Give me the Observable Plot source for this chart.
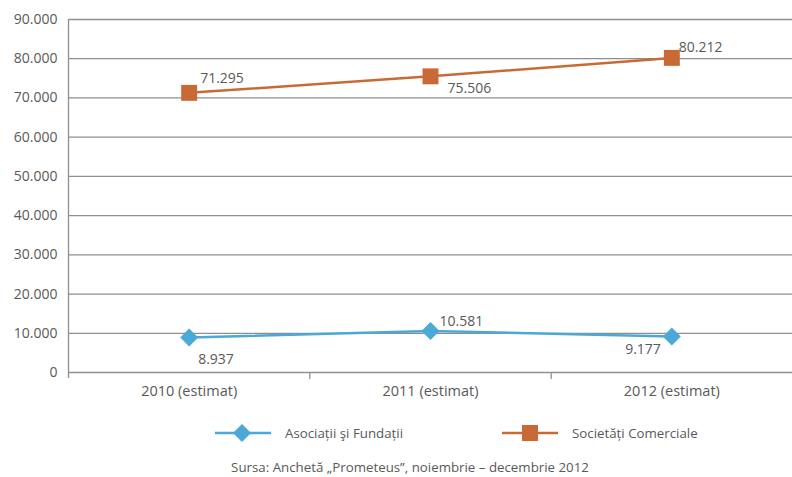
<!DOCTYPE html>
<html><head><meta charset="utf-8">
<script src="https://cdn.jsdelivr.net/npm/d3@7"></script>
<script src="https://cdn.jsdelivr.net/npm/@observablehq/plot@0.6"></script>
<style>
body{margin:0;background:#fff;font-family:"Open Sans",sans-serif;color:#595959}
#wrap{position:relative;width:792px;height:477px;overflow:hidden}
#chart{position:absolute;left:0;top:0}
.leg{position:absolute;font-size:13.3px;line-height:20px;white-space:nowrap}
#caption{position:absolute;left:0;width:820px;top:457px;text-align:center;font-size:13.3px;line-height:20px}
</style></head><body>
<div id="wrap"><div id="chart"></div>
<svg id="legsvg" width="792" height="40" style="position:absolute;left:0;top:413px"></svg>
<div class="leg" id="leg0" style="left:285px;top:423px"></div>
<div class="leg" id="leg1" style="left:572px;top:423px"></div>
<div id="caption"></div>
</div>
<script>
const categories = ["2010 (estimat)", "2011 (estimat)", "2012 (estimat)"];
const seriesNames = ["Asociații şi Fundații", "Societăți Comerciale"];
const asociatii = [8937, 10581, 9177];
const societati = [71295, 75506, 80212];
const yTicks = [0, 10000, 20000, 30000, 40000, 50000, 60000, 70000, 80000, 90000];
const sourceText = "Sursa: Anchetă „Prometeus”, noiembrie – decembrie 2012";

const blue = "#4aa9d6", orange = "#c96a36", grid = "#8f8f8f", ink = "#595959";
const fmt = d3.formatLocale({thousands: ".", decimal: ",", grouping: [3], currency: ["", ""]}).format(",");

const rowsA = categories.map((c, i) => ({cat: c, i, series: seriesNames[0], value: asociatii[i]}));
const rowsS = categories.map((c, i) => ({cat: c, i, series: seriesNames[1], value: societati[i]}));

// label placement (dx, dy, anchor) per point
const placeA = [[9, 22, "start"], [9, -9, "start"], [-11, 13, "end"]];
const placeS = [[11, -14, "start"], [17, 12, "start"], [7, -10, "start"]];

const labelMarks = [];
[[rowsA, placeA], [rowsS, placeS]].forEach(([rows, place]) => {
  rows.forEach((r, k) => {
    labelMarks.push(Plot.text([r], {
      x: d => d.i + 0.5, y: "value", text: d => fmt(d.value),
      dx: place[k][0], dy: place[k][1], textAnchor: place[k][2],
      fill: ink, fontSize: 14
    }));
  });
});

const chart = Plot.plot({
  width: 792, height: 405,
  marginLeft: 68, marginRight: 0, marginTop: 19, marginBottom: 33,
  style: {fontFamily: "'Open Sans', sans-serif", color: ink, background: "white"},
  x: {type: "linear", domain: [0, 3], axis: null},
  y: {domain: [0, 90000], axis: null},
  marks: [
    Plot.ruleY(yTicks, {stroke: grid, strokeWidth: 1.3}),
    Plot.ruleX([0], {stroke: grid, strokeWidth: 1.3, insetBottom: -6}),
    Plot.axisX([1, 2], {tickSize: 7, tickFormat: () => "", label: null, stroke: grid, strokeWidth: 1.3}),
    Plot.axisX([0.5, 1.5, 2.5], {tickSize: 0, tickPadding: 13, label: null, tickFormat: d => categories[Math.floor(d)], fontSize: 14.5, fill: ink}),
    Plot.axisY(yTicks, {tickSize: 0, tickPadding: 11, label: null, tickFormat: d => fmt(d), fontSize: 14, fill: ink}),
    Plot.line(rowsA, {x: d => d.i + 0.5, y: "value", stroke: blue, strokeWidth: 2.5}),
    Plot.line(rowsS, {x: d => d.i + 0.5, y: "value", stroke: orange, strokeWidth: 2.5}),
    Plot.dot(rowsA, {x: d => d.i + 0.5, y: "value", symbol: "diamond2", r: 8.1, fill: blue, stroke: "none"}),
    Plot.dot(rowsS, {x: d => d.i + 0.5, y: "value", symbol: "square", r: 9, fill: orange, stroke: "none"}),
    ...labelMarks
  ]
});
document.getElementById("chart").appendChild(chart);

// legend
const leg = d3.select("#legsvg");
const ly = 20;
leg.append("line").attr("x1", 215).attr("x2", 271).attr("y1", ly).attr("y2", ly).attr("stroke", blue).attr("stroke-width", 2.5);
leg.append("path").attr("d", d3.symbol(d3.symbolDiamond2, 206)()).attr("transform", `translate(242,${ly})`).attr("fill", blue);
leg.append("line").attr("x1", 502).attr("x2", 558).attr("y1", ly).attr("y2", ly).attr("stroke", orange).attr("stroke-width", 2.5);
leg.append("rect").attr("x", 522).attr("y", ly - 8).attr("width", 16).attr("height", 16).attr("fill", orange);
document.getElementById("leg0").textContent = seriesNames[0];
document.getElementById("leg1").textContent = seriesNames[1];
document.getElementById("caption").textContent = sourceText;
</script>
</body></html>
